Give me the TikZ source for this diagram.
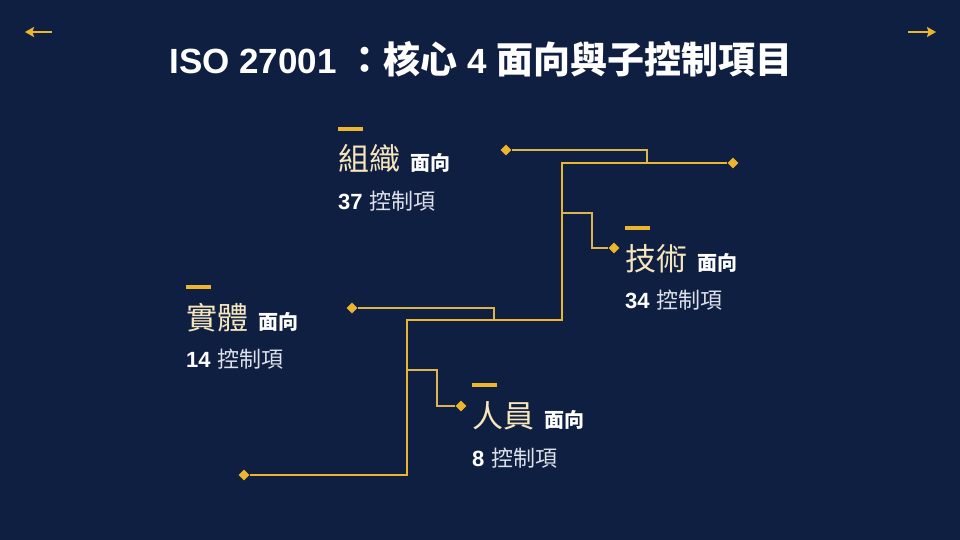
\documentclass[tikz,border=0pt]{standalone}
\usepackage{fontspec}
\setmainfont{Liberation Sans}
\newfontfamily\cjk{Noto Sans CJK TC}
\usetikzlibrary{arrows.meta,shapes.geometric}
\definecolor{navy}{HTML}{0F1F42}
\definecolor{gold}{HTML}{EDB52E}
\definecolor{paleGold}{HTML}{DDB550}
\definecolor{cream}{HTML}{F6E6BC}
\definecolor{mist}{HTML}{DDE1EA}

\begin{document}
\begin{tikzpicture}[x=1pt, y=-1pt,
    trunk/.style={gold, line width=2.8pt},
    twig/.style={paleGold, line width=2.4pt},
    pointer/.style={gold, line width=1.6pt, -{Stealth[length=9pt,width=10pt,inset=1.5pt]}},
    tip/.style={diamond, fill=gold, inner sep=0pt, minimum size=11pt},
    bar/.style={fill=gold, minimum width=25pt, minimum height=4pt, inner sep=0pt},
    head/.style={anchor=base west, inner sep=0pt, text=cream, font=\cjk\fontsize{31}{31}\selectfont},
    side/.style={anchor=base west, inner sep=0pt, text=white, font=\cjk\bfseries\fontsize{20}{20}\selectfont},
    count/.style={anchor=base west, inner sep=0pt, text=mist, font=\fontsize{22}{22}\selectfont}]
    % background
    \fill[navy] (0,0) rectangle (960,540);

    % page arrows
    \coordinate (backTail) at (52,32);
    \coordinate (backHead) at (25,32);
    \coordinate (nextTail) at (908,32);
    \coordinate (nextHead) at (936,32);
    \draw[pointer] (backTail) -- (backHead);
    \draw[pointer] (nextTail) -- (nextHead);

    % title
    \node[anchor=base, inner sep=0pt, text=white, font=\bfseries\fontsize{35}{35}\selectfont] (title) at (481,74)
        {ISO 27001 {\cjk\fontsize{37}{37}\selectfont ：核心} 4 {\cjk\fontsize{37}{37}\selectfont 面向與子控制項目}};

    % main trunk
    \node[tip] (topTip) at (733,163) {};
    \node[tip] (lowTip) at (244,475) {};
    \coordinate (bendA) at (562,320);
    \coordinate (bendB) at (407,475);
    \draw[trunk] (topTip) -| (bendA) -| (bendB) -- (lowTip);

    % branches
    \node[tip] (orgTip) at (506,150) {};
    \coordinate (orgJoin) at (647,163);
    \draw[twig] (orgTip) -| (orgJoin);

    \coordinate (techFork) at (562,213);
    \coordinate (techBend) at (592,248);
    \node[tip] (techTip) at (614,248) {};
    \draw[twig] (techFork) -| (techBend) -- (techTip);

    \node[tip] (bodyTip) at (352,308) {};
    \coordinate (bodyJoin) at (494,320);
    \draw[twig] (bodyTip) -| (bodyJoin);

    \coordinate (staffFork) at (407,370);
    \coordinate (staffBend) at (437,406);
    \node[tip] (staffTip) at (461,406) {};
    \draw[twig] (staffFork) -| (staffBend) -- (staffTip);

    % 組織
    \node[bar] (orgBar) at (350.5,129) {};
    \node[head] (orgHead) at (338,171) {組織};
    \node[side] (orgSide) at (410,171) {面向};
    \node[count] (orgCount) at (338,209) {\textbf{\color{white}37}\hspace{7pt}{\cjk 控制項}};

    % 技術
    \node[bar] (techBar) at (637.5,228) {};
    \node[head] (techHead) at (625,270) {技術};
    \node[side] (techSide) at (697,270) {面向};
    \node[count] (techCount) at (625,308) {\textbf{\color{white}34}\hspace{7pt}{\cjk 控制項}};

    % 實體
    \node[bar] (bodyBar) at (198.5,287) {};
    \node[head] (bodyHead) at (186,329) {實體};
    \node[side] (bodySide) at (258,329) {面向};
    \node[count] (bodyCount) at (186,367) {\textbf{\color{white}14}\hspace{7pt}{\cjk 控制項}};

    % 人員
    \node[bar] (staffBar) at (484.5,385) {};
    \node[head] (staffHead) at (472,427) {人員};
    \node[side] (staffSide) at (544,427) {面向};
    \node[count] (staffCount) at (472,466) {\textbf{\color{white}8}\hspace{7pt}{\cjk 控制項}};
\end{tikzpicture}
\end{document}
